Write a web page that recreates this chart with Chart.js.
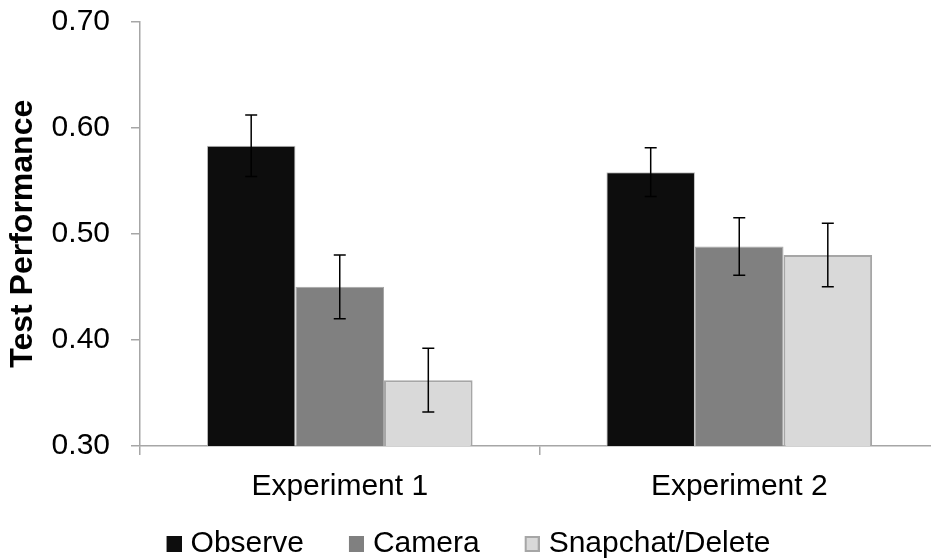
<!DOCTYPE html>
<html>
<head>
<meta charset="utf-8">
<script src="https://cdn.jsdelivr.net/npm/chart.js@4.4.1/dist/chart.umd.min.js"></script>
<style>
html,body{margin:0;padding:0;background:#fff;overflow:hidden;}
#wrap{width:931px;height:560px;position:relative;overflow:hidden;}
#c{position:absolute;left:-23px;top:0;}
</style>
</head>
<body>
<div id="wrap"><canvas id="c" width="962" height="569"></canvas></div>
<script>
const categories = ["Experiment 1", "Experiment 2"];
const seriesNames = ["Observe", "Camera", "Snapchat/Delete"];
const observe = [0.583, 0.558];
const camera = [0.450, 0.488];
const snapchat = [0.362, 0.480];
const observeErr = [0.029, 0.023];
const cameraErr = [0.030, 0.027];
const snapchatErr = [0.030, 0.030];
const yTicks = [0.30, 0.40, 0.50, 0.60, 0.70];

const fills = ['#0d0d0d', '#808080', '#d9d9d9'];
const strokes = ['#bfbfbf', '#a6a6a6', '#a6a6a6'];
const strokeWidths = [1, 1, 2];

function makeSwatch(fill, stroke, lw) {
  const c = document.createElement('canvas');
  c.width = 42; c.height = 16;
  const g = c.getContext('2d');
  g.fillStyle = fill;
  g.fillRect(27, 0, 15, 16);
  if (lw > 1) {
    g.strokeStyle = stroke; g.lineWidth = lw;
    g.strokeRect(27 + lw / 2, lw / 2, 15 - lw, 16 - lw);
  }
  return c;
}
const swatches = fills.map((f, i) => makeSwatch(f, strokes[i], strokeWidths[i]));

const errorBars = {
  id: 'errorBars',
  afterDatasetsDraw(chart) {
    const ctx = chart.ctx;
    const y = chart.scales.y;
    ctx.save();
    ctx.strokeStyle = '#000';
    ctx.lineWidth = 1.5;
    chart.data.datasets.forEach((ds, di) => {
      const meta = chart.getDatasetMeta(di);
      meta.data.forEach((bar, i) => {
        const v = ds.data[i], e = ds.err[i];
        const top = y.getPixelForValue(v + e);
        const bot = y.getPixelForValue(v - e);
        const x = bar.x;
        ctx.beginPath();
        ctx.moveTo(x, top); ctx.lineTo(x, bot);
        ctx.moveTo(x - 6, top); ctx.lineTo(x + 6, top);
        ctx.moveTo(x - 6, bot); ctx.lineTo(x + 6, bot);
        ctx.stroke();
      });
    });
    ctx.restore();
  }
};

Chart.defaults.font.family = '"Liberation Sans", Arial, sans-serif';
Chart.defaults.color = '#000';

new Chart(document.getElementById('c'), {
  type: 'bar',
  data: {
    labels: categories,
    datasets: [
      {label: seriesNames[0], data: observe, err: observeErr, backgroundColor: fills[0], borderColor: strokes[0], borderWidth: strokeWidths[0]},
      {label: seriesNames[1], data: camera, err: cameraErr, backgroundColor: fills[1], borderColor: strokes[1], borderWidth: strokeWidths[1]},
      {label: seriesNames[2], data: snapchat, err: snapchatErr, backgroundColor: fills[2], borderColor: strokes[2], borderWidth: strokeWidths[2]}
    ]
  },
  options: {
    responsive: false,
    animation: false,
    devicePixelRatio: 1,
    layout: {padding: {left: 0, right: 0, top: 21.5, bottom: 0}},
    datasets: {bar: {barPercentage: 1.0, categoryPercentage: 0.665}},
    plugins: {
      legend: {
        position: 'bottom',
        labels: {
          font: {size: 30},
          usePointStyle: true,
          pointStyleWidth: 30,
          boxHeight: 16,
          padding: 24,
          color: '#000',
          generateLabels(chart) {
            const items = Chart.defaults.plugins.legend.labels.generateLabels(chart);
            items.forEach((it, i) => { it.pointStyle = swatches[i]; });
            return items;
          }
        }
      },
      tooltip: {enabled: false}
    },
    scales: {
      x: {
        afterFit(scale) { scale.height = 59; },
        border: {color: '#a6a6a6', width: 1.5},
        grid: {display: true, drawOnChartArea: false, drawTicks: true, tickLength: 9, color: '#a6a6a6', lineWidth: 1.5},
        ticks: {font: {size: 30}, padding: 14, color: '#000'}
      },
      y: {
        min: 0.30,
        max: 0.70,
        afterBuildTicks(scale) { scale.ticks = yTicks.map(v => ({value: v})); },
        afterFit(scale) { scale.width = 163; scale.paddingTop = 0; scale.paddingBottom = 0; },
        border: {color: '#a6a6a6', width: 1.5},
        grid: {display: true, drawOnChartArea: false, drawTicks: true, tickLength: 9, color: '#a6a6a6', lineWidth: 1.5},
        ticks: {font: {size: 30}, padding: 21, color: '#000', callback: v => Number(v).toFixed(2)},
        title: {display: true, text: 'Test Performance', font: {size: 32, weight: 'bold'}, color: '#000', padding: {top: 27, bottom: 4}}
      }
    }
  },
  plugins: [errorBars]
});
</script>
</body>
</html>
